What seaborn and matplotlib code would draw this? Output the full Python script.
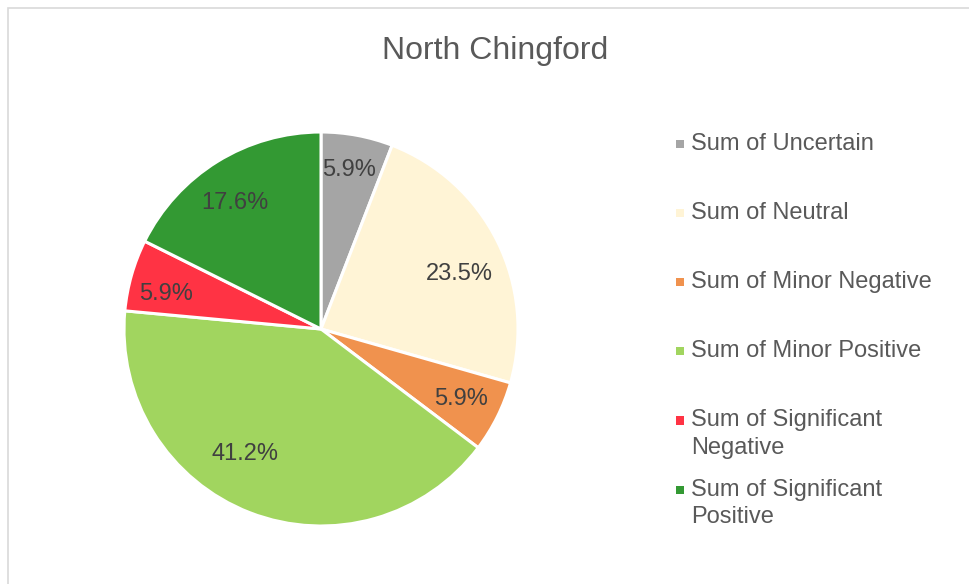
import matplotlib
matplotlib.use("Agg")
import matplotlib.pyplot as plt
import seaborn as sns
import numpy as np
import pandas as pd
from matplotlib.patches import Rectangle
from matplotlib.legend_handler import HandlerPatch

# ---- data ----
title = "North Chingford"
categories = ["Sum of Uncertain", "Sum of Neutral", "Sum of Minor Negative",
              "Sum of Minor Positive", "Sum of Significant Negative",
              "Sum of Significant Positive"]
legend_labels = ["Sum of Uncertain", "Sum of Neutral", "Sum of Minor Negative",
                 "Sum of Minor Positive", "Sum of Significant\nNegative",
                 "Sum of Significant\nPositive"]
counts = [1, 4, 1, 7, 1, 3]
colors = ["#A5A5A5", "#FFF4D6", "#F0924E", "#A1D55F", "#FF3344", "#339933"]

# ---- style ----
sns.set_theme(style="white")
plt.rcParams['font.family'] = ['Liberation Sans', 'DejaVu Sans']

W, H = 970, 584
fig = plt.figure(figsize=(W / 100, H / 100), dpi=100)
fig.patch.set_facecolor("white")

cx, cy, R = 321, 329, 197
ax = fig.add_axes([(cx - R) / W, (H - cy - R) / H, 2 * R / W, 2 * R / H])

df = pd.DataFrame({"category": categories, "count": counts})
wedges, texts, autotexts = ax.pie(
    df["count"], colors=colors, startangle=90, counterclock=False,
    autopct="%1.1f%%", pctdistance=0.8,
    wedgeprops=dict(edgecolor="white", linewidth=2.2),
    textprops=dict(fontsize=17, color="#404040"))
ax.set_xlim(-1, 1)
ax.set_ylim(-1, 1)
ax.set_aspect("equal")
for w in wedges:
    w.set_clip_on(False)

# label placement (radius fraction, angular shift in degrees)
label_r = [0.83, 0.76, 0.79, 0.73, 0.81, 0.785]
label_shift = [0.8, -4.1, 0.8, -10.5, 2.4, 2.2]
for w, t, r, s in zip(wedges, autotexts, label_r, label_shift):
    ang = np.deg2rad((w.theta1 + w.theta2) / 2 + s)
    t.set_position((r * np.cos(ang), r * np.sin(ang) - 0.011))
    t.set_ha("center")
    t.set_va("center")

# title
fig.text(0.51, 1 - 59 / H, title, ha="center", va="baseline",
         fontsize=23, color="#595959")

# legend with square markers aligned to the first text line
fs = 17
pitch_pt = 28 * 0.72


def square(legend, orig_handle, xdescent, ydescent, width, height, fontsize):
    s = 5.8
    return Rectangle((width / 2 - s / 2 - xdescent,
                      height / 2 - s / 2 - ydescent + pitch_pt / 2), s, s)


padded = [lab if "\n" in lab else lab + "\n" for lab in legend_labels]
handles = [Rectangle((0, 0), 1, 1, facecolor=c, edgecolor="none") for c in colors]
leg = fig.legend(handles, padded, loc="upper left",
                 bbox_to_anchor=(676 / W, 1 - 133 / H),
                 bbox_transform=fig.transFigure, frameon=False,
                 fontsize=fs, handlelength=0.34, handleheight=0.7,
                 handletextpad=0.31, labelspacing=0.826,
                 borderpad=0, borderaxespad=0,
                 handler_map={Rectangle: HandlerPatch(patch_func=square)})
for t in leg.get_texts():
    t.set_color("#595959")
    t.set_linespacing(1.33)

# outer chart border
fig.add_artist(Rectangle((8.5 / W, -0.1), 1.2, (1 - 8.5 / H) + 0.1,
                         transform=fig.transFigure, fill=False,
                         edgecolor="#D9D9D9", linewidth=1.2))

fig.savefig("out.png", dpi=100, facecolor="white")
